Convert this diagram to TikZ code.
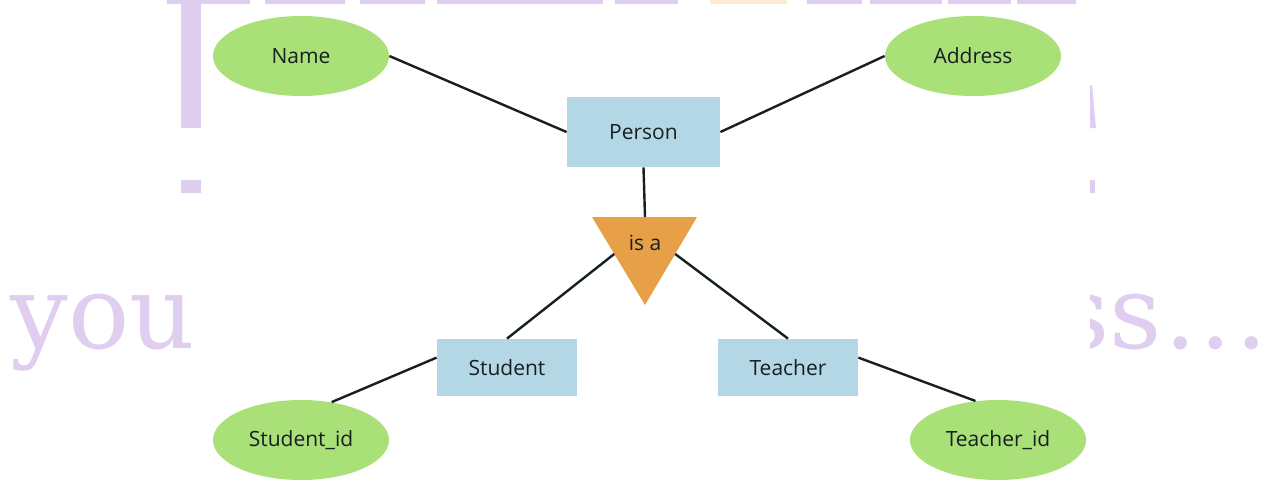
\documentclass[tikz,border=0pt]{standalone}
\usepackage{fontspec}
\setmainfont{Open Sans}
\newfontfamily\wmfont{DejaVu Serif}
\usetikzlibrary{shapes.geometric,calc}
\definecolor{attrgreen}{RGB}{170,224,120}
\definecolor{entblue}{RGB}{180,215,229}
\definecolor{isaorange}{RGB}{232,160,72}
\definecolor{inkdark}{RGB}{22,32,34}
\definecolor{wmpurple}{RGB}{224,206,240}
\definecolor{wmorange}{RGB}{253,236,210}
\begin{document}
\begin{tikzpicture}[x=0.5pt,y=-0.5pt,
  attr/.style={ellipse,fill=attrgreen,minimum width=88pt,minimum height=40pt,
    inner sep=0pt,text=inkdark,font=\fontsize{10.5}{12}\selectfont},
  entity/.style={rectangle,fill=entblue,inner sep=0pt,text=inkdark,
    font=\fontsize{10.5}{12}\selectfont},
  link/.style={draw=inkdark,line width=1.2pt},
  wmtext/.style={text=wmpurple,inner sep=0pt,font=\wmfont\fontsize{51}{51}\selectfont}]
\useasboundingbox (0,0) rectangle (1270,479);
\fill[white] (0,0) rectangle (1270,479);

% faded lettering behind the panel
\node[wmtext,anchor=base west] (wmleft) at (10,348) {you};
\node[wmtext,anchor=base east] (wmright) at (1268,348) {ss\kern1pt.\kern1.5pt.\kern1.5pt.};
\fill[wmpurple] (181,0) rectangle (201,128);
\fill[wmpurple] (181,180) rectangle (201,193);
\fill[wmpurple] (1090,85) -- (1092,85) -- (1096,128) -- (1090,128) -- cycle;
\fill[wmpurple] (1090,180) rectangle (1095,193);
\foreach \a/\b in {167/250,265/345,360/425,437/603,615/678,807/862,870/942,948/1011,1017/1076}
  \fill[wmpurple] (\a,0) rectangle (\b,4);
\fill[wmorange] (710,0) rectangle (787,4);

% white diagram panel
\fill[white] (201,4) rectangle (1090,479);

% entities
\node[entity,minimum width=76.5pt,minimum height=35pt] (person) at (643.5,132) {Person};
\node[entity,minimum width=70pt,minimum height=28.5pt] (student) at (507,367.5) {Student};
\node[entity,minimum width=70pt,minimum height=28.5pt] (teacher) at (788,367.5) {Teacher};

% attributes
\node[attr] (name) at (301,56) {Name};
\node[attr] (address) at (973,56) {Address};
\node[attr] (studentid) at (301,440) {Student\_id};
\node[attr] (teacherid) at (998,440) {Teacher\_id};

% ISA triangle
\coordinate (tl) at (592,217);
\coordinate (tr) at (697,217);
\coordinate (tb) at (645,305);
\coordinate (ttop) at (645,217);
\fill[isaorange] (tl) -- (tr) -- (tb) -- cycle;
\node[text=inkdark,font=\fontsize{10.5}{12}\selectfont,inner sep=0pt] (isa) at (645,243) {is a};
\coordinate (tleft) at ($(tl)!0.42!(tb)$);
\coordinate (tright) at ($(tr)!0.42!(tb)$);

% connectors
\draw[link] (name.east) -- (person.west);
\draw[link] (address.west) -- (person.east);
\draw[link] (person.south) -- (ttop);
\draw[link] (tleft) -- (student.north);
\draw[link] (tright) -- (teacher.north);
\draw[link] (student.172) -- (studentid.51);
\draw[link] (teacher.8) -- (teacherid.120);
\end{tikzpicture}
\end{document}
